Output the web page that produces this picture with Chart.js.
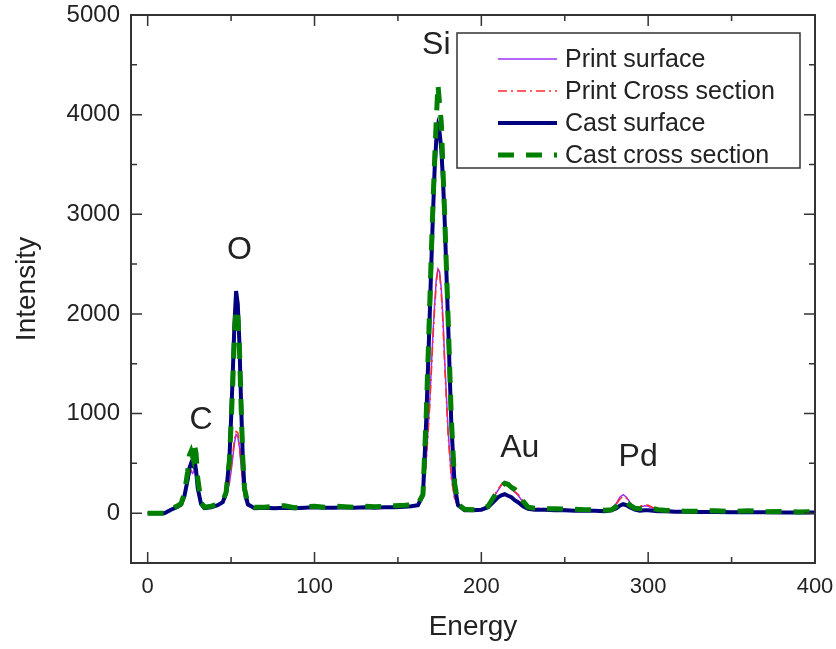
<!DOCTYPE html>
<html>
<head>
<meta charset="utf-8">
<title>EDS spectra</title>
<script src="https://cdn.jsdelivr.net/npm/chart.js@4.4.1/dist/chart.umd.min.js"></script>
<style>
  html, body { margin: 0; padding: 0; background: #fff; }
  #wrap { width: 836px; height: 649px; }
</style>
</head>
<body>
<div id="wrap"><canvas id="chart" width="836" height="649"></canvas></div>
<script>
// Energy axis (shared by all four spectra)
const energy = [
    0, 10, 14, 18, 20, 22, 24, 25, 26, 27,
    28, 29, 30, 32, 34, 38, 42, 45, 47, 49,
    50, 51, 52, 53, 54, 55, 56, 57, 58, 60,
    64, 70, 76, 82, 88, 94, 100, 106, 112, 118,
    124, 130, 136, 142, 148, 154, 158, 162, 165, 167,
    169, 170, 171, 172, 173, 174, 175, 176, 177, 178,
    179, 180, 182, 184, 186, 190, 195, 200, 204, 207,
    210, 212, 214, 216, 218, 220, 222, 225, 228, 232,
    238, 244, 250, 256, 262, 268, 274, 278, 281, 283,
    285, 287, 289, 292, 295, 298, 300, 303, 306, 310,
    316, 322, 330, 340, 350, 360, 370, 380, 390, 400
];

const printSurface = [
    0, 5, 40, 70, 90, 160, 300, 380, 420, 400,
    440, 360, 220, 80, 50, 55, 80, 110, 170, 300,
    420, 560, 700, 790, 770, 660, 480, 280, 150, 70,
    50, 55, 50, 60, 50, 55, 60, 55, 60, 55,
    60, 55, 60, 60, 65, 70, 70, 80, 170, 550,
    1100, 1450, 1800, 2100, 2350, 2450, 2420, 2250, 1950, 1550,
    1200, 850, 380, 150, 70, 35, 30, 35, 70, 150,
    230, 280, 305, 270, 240, 210, 180, 110, 60, 45,
    40, 40, 35, 35, 30, 30, 30, 40, 100, 160,
    185, 160, 110, 55, 60, 75, 70, 50, 35, 30,
    25, 20, 20, 18, 15, 15, 15, 12, 12, 10
];

const printCross = [
    0, 5, 45, 80, 100, 180, 330, 400, 430, 410,
    450, 380, 240, 90, 55, 60, 85, 120, 180, 320,
    440, 590, 740, 820, 810, 680, 500, 300, 160, 75,
    55, 50, 55, 55, 60, 50, 55, 60, 55, 60,
    55, 60, 55, 65, 60, 65, 75, 80, 160, 520,
    1050, 1400, 1750, 2050, 2300, 2460, 2400, 2200, 1900, 1500,
    1150, 800, 350, 140, 65, 40, 35, 40, 75, 160,
    240, 290, 300, 280, 250, 220, 190, 120, 65, 50,
    45, 35, 40, 30, 35, 30, 30, 40, 90, 140,
    170, 150, 105, 60, 70, 85, 80, 55, 40, 30,
    25, 25, 20, 20, 18, 15, 15, 15, 12, 12
];

const castSurface = [
    0, 0, 35, 65, 85, 170, 340, 450, 500, 480,
    540, 430, 250, 90, 50, 60, 80, 110, 200, 550,
    950, 1400, 1900, 2230, 2100, 1700, 1100, 560, 250, 90,
    50, 55, 50, 55, 50, 55, 60, 55, 55, 60,
    55, 60, 55, 60, 60, 65, 70, 80, 180, 950,
    1950, 2500, 3000, 3450, 3750, 3880, 3820, 3650, 3350, 2950,
    2450, 1950, 900, 280, 80, 30, 30, 35, 60, 110,
    160, 180, 190, 175, 160, 130, 110, 70, 45, 35,
    35, 30, 30, 25, 25, 25, 20, 30, 50, 75,
    90, 80, 60, 35, 25, 30, 30, 25, 20, 20,
    15, 15, 12, 12, 10, 10, 10, 8, 8, 8
];

const castCross = [
    0, 0, 40, 75, 95, 200, 420, 580, 620, 560,
    690, 600, 350, 110, 60, 70, 90, 120, 210, 530,
    900, 1300, 1800, 2050, 2000, 1650, 1080, 550, 250, 95,
    60, 60, 70, 75, 55, 65, 70, 60, 70, 65,
    60, 70, 65, 70, 75, 80, 85, 90, 190, 1000,
    2050, 2600, 3100, 3550, 3950, 4300, 4100, 3920, 3450, 3000,
    2500, 2000, 950, 300, 90, 40, 35, 40, 70, 150,
    230, 270, 300, 290, 260, 240, 200, 120, 60, 50,
    45, 45, 40, 40, 35, 35, 30, 35, 70, 100,
    120, 110, 80, 50, 45, 55, 55, 45, 35, 30,
    25, 20, 20, 25, 15, 25, 15, 18, 12, 15
];

const seriesNames = ['Print surface', 'Print Cross section', 'Cast surface', 'Cast cross section'];

const xTicks = [0, 100, 200, 300, 400];
const xMinorTicks = [50, 150, 250, 350];
const yTicks = [0, 1000, 2000, 3000, 4000, 5000];
const yMinorTicks = [500, 1500, 2500, 3500, 4500];

// Peak labels
const peakNames = ['C', 'O', 'Si', 'Au', 'Pd'];
const peakX = [32, 55, 173, 223, 294];
const peakY = [930, 2640, 4700, 650, 560];

const FONT = "'Liberation Sans', Arial, sans-serif";
const INK = '#222222';

Chart.defaults.font.family = FONT;
Chart.defaults.color = INK;

const toPoints = (ys) => energy.map((x, i) => ({ x, y: ys[i] }));

const styles = [
    { color: '#9b30ff', width: 1.5, dash: [] },
    { color: '#ff2a2a', width: 1.5, dash: [9, 4, 2, 4] },
    { color: '#00007f', width: 4, dash: [] },
    { color: '#007f00', width: 5, dash: [16, 12] }
];
const seriesData = [printSurface, printCross, castSurface, castCross];

// Frame with inward ticks on all four sides
const framePlugin = {
    id: 'frame',
    afterDraw(chart) {
        const { ctx, chartArea: a, scales: { x, y } } = chart;
        ctx.save();
        ctx.strokeStyle = '#333';
        ctx.lineWidth = 2;
        ctx.strokeRect(a.left, a.top, a.right - a.left, a.bottom - a.top);
        const tickX = (vals, len) => {
            vals.forEach(v => {
                const px = x.getPixelForValue(v);
                ctx.beginPath();
                ctx.moveTo(px, a.bottom); ctx.lineTo(px, a.bottom - len);
                ctx.moveTo(px, a.top); ctx.lineTo(px, a.top + len);
                ctx.stroke();
            });
        };
        const tickY = (vals, len) => {
            vals.forEach(v => {
                const py = y.getPixelForValue(v);
                ctx.beginPath();
                ctx.moveTo(a.left, py); ctx.lineTo(a.left + len, py);
                ctx.moveTo(a.right, py); ctx.lineTo(a.right - len, py);
                ctx.stroke();
            });
        };
        ctx.lineWidth = 1.5;
        tickX(xTicks, 11); tickX(xMinorTicks, 6);
        tickY(yTicks, 11); tickY(yMinorTicks, 6);
        ctx.restore();
    }
};

const labelPlugin = {
    id: 'peakLabels',
    afterDatasetsDraw(chart) {
        const { ctx, scales: { x, y } } = chart;
        ctx.save();
        ctx.font = `32px ${FONT}`;
        ctx.fillStyle = INK;
        ctx.textAlign = 'center';
        ctx.textBaseline = 'middle';
        peakNames.forEach((t, i) => {
            ctx.fillText(t, x.getPixelForValue(peakX[i]), y.getPixelForValue(peakY[i]));
        });
        ctx.restore();
    }
};

const legendPlugin = {
    id: 'boxLegend',
    afterDraw(chart) {
        const { ctx } = chart;
        const box = { left: 457, top: 33, right: 800, bottom: 168 };
        ctx.save();
        ctx.fillStyle = '#fff';
        ctx.fillRect(box.left, box.top, box.right - box.left, box.bottom - box.top);
        ctx.strokeStyle = '#333';
        ctx.lineWidth = 1.5;
        ctx.strokeRect(box.left, box.top, box.right - box.left, box.bottom - box.top);
        ctx.font = `25px ${FONT}`;
        ctx.textBaseline = 'middle';
        ctx.textAlign = 'left';
        seriesNames.forEach((name, i) => {
            const ds = chart.data.datasets[i];
            const yy = 59 + i * 32;
            ctx.strokeStyle = ds.borderColor;
            ctx.lineWidth = ds.borderWidth;
            ctx.setLineDash(ds.borderDash || []);
            ctx.beginPath();
            ctx.moveTo(498, yy); ctx.lineTo(557, yy);
            ctx.stroke();
            ctx.setLineDash([]);
            ctx.fillStyle = INK;
            ctx.fillText(name, 565, yy + 1);
        });
        ctx.restore();
    }
};

new Chart(document.getElementById('chart'), {
    type: 'line',
    data: {
        datasets: seriesNames.map((name, i) => ({
            label: name,
            data: toPoints(seriesData[i]),
            borderColor: styles[i].color,
            borderWidth: styles[i].width,
            borderDash: styles[i].dash,
            pointRadius: 0,
            tension: 0,
            fill: false,
            order: 4 - i
        }))
    },
    options: {
        responsive: false,
        animation: false,
        layout: { padding: { top: 15, right: 21, left: 0, bottom: 0 } },
        plugins: {
            legend: { display: false },
            tooltip: { enabled: false }
        },
        scales: {
            x: {
                type: 'linear',
                min: -10,
                max: 400,
                grid: { display: false, drawTicks: false },
                border: { display: false },
                afterBuildTicks: s => { s.ticks = xTicks.map(v => ({ value: v })); },
                afterFit: s => { s.height = 86; s.paddingLeft = 0; s.paddingRight = 0; },
                ticks: { padding: 11, font: { size: 22 }, color: INK, maxRotation: 0, callback: v => String(v) },
                title: { display: true, text: 'Energy', font: { size: 28 }, color: INK, padding: { top: 0, bottom: 5 } }
            },
            y: {
                type: 'linear',
                min: -500,
                max: 5000,
                grid: { display: false, drawTicks: false },
                border: { display: false },
                afterBuildTicks: s => { s.ticks = yTicks.map(v => ({ value: v })); },
                afterFit: s => { s.width = 131; s.paddingTop = 0; s.paddingBottom = 0; },
                ticks: { padding: 11, font: { size: 24 }, color: INK, callback: v => String(v) },
                title: { display: true, text: 'Intensity', font: { size: 28 }, color: INK, padding: { top: 10, bottom: 0 } }
            }
        }
    },
    plugins: [framePlugin, labelPlugin, legendPlugin]
});
</script>
</body>
</html>
